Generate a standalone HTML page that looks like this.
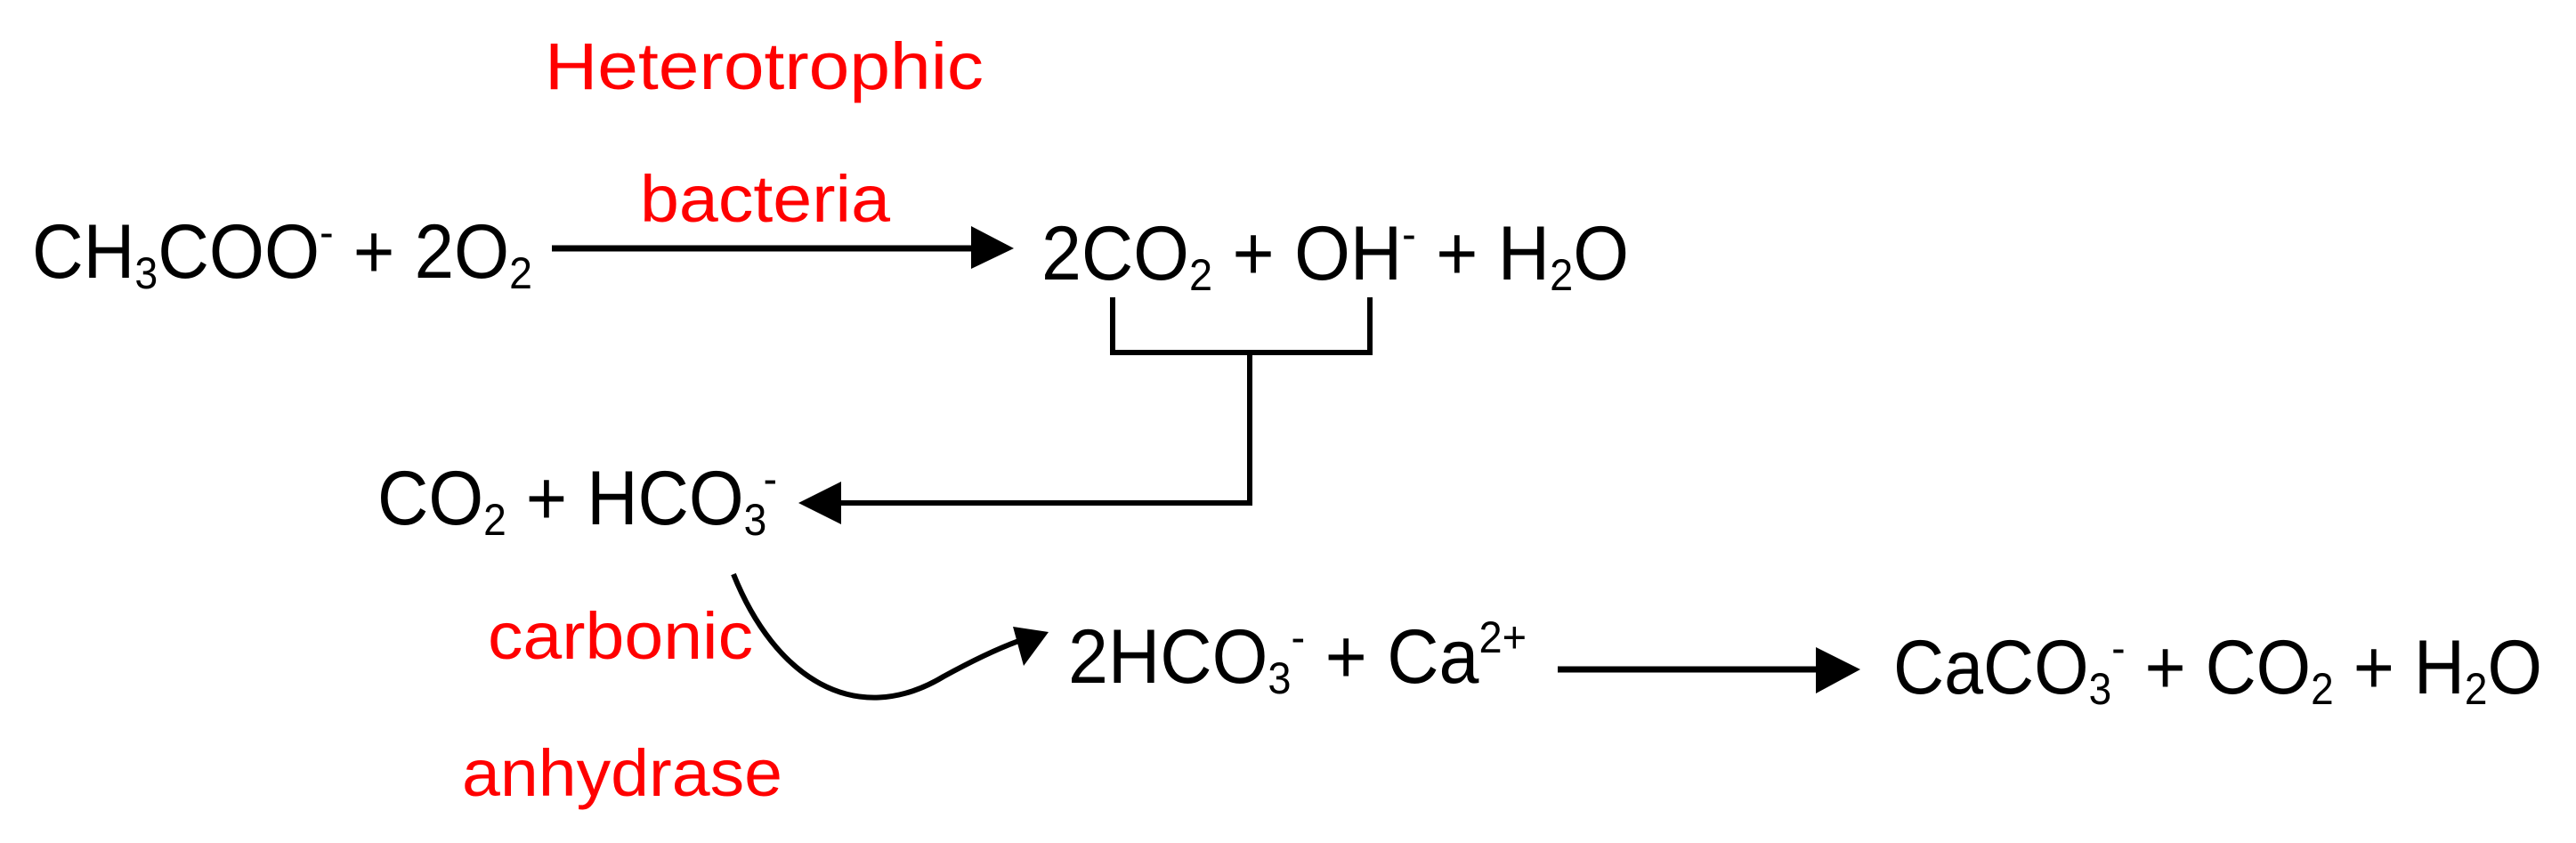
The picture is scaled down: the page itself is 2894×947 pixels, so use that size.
<!DOCTYPE html>
<html><head><meta charset="utf-8"><style>html,body{margin:0;padding:0;background:#fff}svg{display:block}</style></head>
<body>
<svg width="2894" height="947" viewBox="0 0 2894 947" xmlns="http://www.w3.org/2000/svg" font-family="Liberation Sans, sans-serif">
<g fill="#ff0000" font-size="74">
<text x="612" y="100" textLength="493" lengthAdjust="spacingAndGlyphs">Heterotrophic</text>
<text x="719" y="249" textLength="281" lengthAdjust="spacingAndGlyphs">bacteria</text>
<text x="548" y="740" textLength="298" lengthAdjust="spacingAndGlyphs">carbonic</text>
<text x="519" y="894" textLength="360" lengthAdjust="spacingAndGlyphs">anhydrase</text>
</g>
<g fill="#000" font-size="86">
<text x="36" y="312" textLength="562" lengthAdjust="spacingAndGlyphs">CH<tspan font-size="50" dy="12">3</tspan><tspan dy="-12">COO</tspan><tspan font-size="50" dy="-34">-</tspan><tspan dy="34"> + 2O</tspan><tspan font-size="50" dy="12">2</tspan></text>
<text x="1170" y="314" textLength="660" lengthAdjust="spacingAndGlyphs">2CO<tspan font-size="50" dy="12">2</tspan><tspan dy="-12"> + OH</tspan><tspan font-size="50" dy="-34">-</tspan><tspan dy="34"> + H</tspan><tspan font-size="50" dy="12">2</tspan><tspan dy="-12">O</tspan></text>
<text x="424" y="589" textLength="449" lengthAdjust="spacingAndGlyphs">CO<tspan font-size="50" dy="12">2</tspan><tspan dy="-12"> + HCO</tspan><tspan font-size="50" dy="12">3</tspan><tspan font-size="50" dx="-4" dy="-46">-</tspan></text>
<text x="1200" y="767" textLength="515" lengthAdjust="spacingAndGlyphs">2HCO<tspan font-size="50" dy="12">3</tspan><tspan font-size="50" dy="-46">-</tspan><tspan dy="34"> + Ca</tspan><tspan font-size="50" dy="-34">2+</tspan></text>
<text x="2127" y="779" textLength="729" lengthAdjust="spacingAndGlyphs">CaCO<tspan font-size="50" dy="12">3</tspan><tspan font-size="50" dy="-46">-</tspan><tspan dy="34"> + CO</tspan><tspan font-size="50" dy="12">2</tspan><tspan dy="-12"> + H</tspan><tspan font-size="50" dy="12">2</tspan><tspan dy="-12">O</tspan></text>
</g>
<g stroke="#000" fill="none">
<line x1="620" y1="279" x2="1095" y2="279" stroke-width="7"/>
<polyline points="1250,334 1250,396 1539,396 1539,334" stroke-width="6"/>
<polyline points="1404,396 1404,565 940,565" stroke-width="6"/>
<line x1="1750" y1="752" x2="2045" y2="752" stroke-width="7"/>
<path d="M824,645 C870,760 960,820 1060,760 C1100,738 1130,725 1150,718" stroke-width="6"/>
</g>
<g fill="#000">
<polygon points="1091,254 1139,279 1091,302"/>
<polygon points="945,541 897,565 945,589"/>
<polygon points="2040,727 2090,752 2040,779"/>
<polygon points="1138,704 1178,710 1150,748"/>
</g>
</svg>
</body></html>
